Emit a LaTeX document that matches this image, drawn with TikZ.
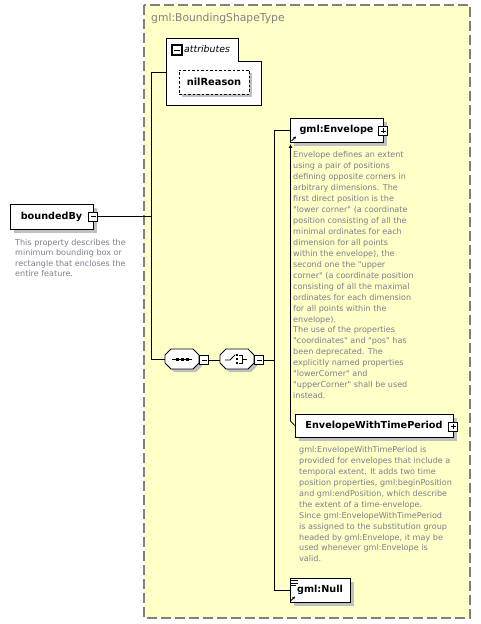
\documentclass[tikz,border=0pt]{standalone}
\usepackage{fontspec}
\setmainfont{DejaVu Sans}
\usetikzlibrary{arrows.meta,calc,shadows}
\definecolor{bgyellow}{RGB}{255,255,200}
\definecolor{desc}{RGB}{125,128,140}
\definecolor{shadowgray}{RGB}{192,192,192}
\definecolor{borderdash}{RGB}{128,128,128}
\newcommand{\dq}{\textquotedbl}
\tikzset{
  shadowed/.style={drop shadow={shadow xshift=4bp,shadow yshift=-4bp,fill=shadowgray,opacity=1}},
  elem/.style={draw=black, fill=white, line width=0.8bp, inner sep=0, shadowed,
    font=\fontsize{9.7}{11}\selectfont\bfseries},
  descr/.style={anchor=north west, align=left, inner sep=0, text=desc,
    font=\fontsize{8.1}{11}\selectfont},
  conn/.style={draw=black, line width=0.8bp},
  tog/.style={draw=black, fill=white, line width=0.8bp, minimum size=9bp, inner sep=0},
  minusbox/.style={tog, path picture={\draw[line width=0.8bp]
     ([xshift=2bp]path picture bounding box.west) -- ([xshift=-2bp]path picture bounding box.east);}},
  plusbox/.style={tog, path picture={\draw[line width=0.8bp]
     ([xshift=2bp]path picture bounding box.west) -- ([xshift=-2bp]path picture bounding box.east)
     ([yshift=-2bp]path picture bounding box.north) -- ([yshift=2bp]path picture bounding box.south);}},
  compbox/.style={minimum width=34bp, minimum height=20bp, inner sep=0},
}
\begin{document}
\begin{tikzpicture}[x=1bp,y=-1bp]
\useasboundingbox (0,0) rectangle (481,624);

% outer complex type box
\draw[borderdash, dash pattern=on 10bp off 4bp, line width=1.5bp, fill=bgyellow] (144,5) rectangle (470,618);
\node[anchor=west, inner sep=0, text=borderdash, font=\fontsize{10.8}{12}\selectfont] (title) at (151,19) {gml:BoundingShapeType};

% attributes group
\draw[line width=0.8bp, fill=white] (166,38) -- (238,38) -- (238,61) -- (261,61) -- (261,105) -- (166,105) -- cycle;
\node[tog, line width=1.2bp, minimum size=10bp, path picture={\draw[line width=0.8bp]
     ([xshift=2bp]path picture bounding box.west) -- ([xshift=-2bp]path picture bounding box.east);}] (attm) at (177,50) {};
\node[anchor=west, inner sep=0, font=\fontsize{9.4}{11}\selectfont\itshape] (attl) at (184,49.5) {attributes};
\fill[shadowgray] (182,73) rectangle (252,97);
\node[draw=black, fill=white, dash pattern=on 2.5bp off 2bp, line width=0.8bp, minimum width=70bp, minimum height=24bp,
      inner sep=0, font=\fontsize{9.9}{11}\selectfont\bfseries] (nil) at (214,82) {nilReason};
\coordinate (attin) at (166,72);
\coordinate (ja) at (151,72);
\coordinate (jb) at (151,359);

% boundedBy
\node[elem, minimum width=83bp, minimum height=25bp] (bb) at (51.5,216.5) {boundedBy};
\node[minusbox] (bbm) at (93,216.5) {};
\node[descr, font=\fontsize{8.1}{10.5}\selectfont] (bbd) at (15,238.8) {This property describes the\\minimum bounding box or\\rectangle that encloses the\\entire feature.};

% sequence and choice compositors
\node[compbox] (seq) at (182,359) {};
\node[compbox] (cho) at (237,359) {};
\foreach \n in {seq,cho}{
  \fill[shadowgray, shift={($(\n.center)+(3,3)$)}] (-11,-10) -- (11,-10) -- (17,-4) -- (17,4) -- (11,10) -- (-11,10) -- (-17,4) -- (-17,-4) -- cycle;
  \draw[line width=0.8bp, fill=white, shift={(\n.center)}] (-11,-10) -- (11,-10) -- (17,-4) -- (17,4) -- (11,10) -- (-11,10) -- (-17,4) -- (-17,-4) -- cycle;
}
\begin{scope}[shift={(seq.center)}]
  \draw[line width=0.8bp] (-10,0) -- (10,0);
  \foreach \i in {-5,0,5} \fill (\i-1.5,-1.5) rectangle (\i+1.5,1.5);
\end{scope}
\begin{scope}[shift={(cho.center)}, line width=0.8bp]
  \draw (-12,1) -- (-7,1) -- (-2,-4);
  \foreach \j in {-4,0,4} \fill (-1.3,\j-1.3) rectangle (1.3,\j+1.3);
  \draw (2,-4) -- (5,-4) -- (5,4) -- (2,4) (5,0) -- (10,0);
\end{scope}
\node[minusbox] (seqm) at (204,360) {};
\node[minusbox] (chom) at (259,360) {};

% elements of the choice
\node[elem, minimum width=93bp, minimum height=24bp] (env) at (336.5,130) {gml:Envelope};
\node[plusbox] (envp) at (383,131) {};
\draw[line width=0.8bp, -{Stealth[length=3bp,width=3bp]}] (291.5,141) -- (296,136.5);
\node[descr] (envd) at (293,151.3) {Envelope defines an extent\\using a pair of positions\\defining opposite corners in\\arbitrary dimensions. The\\first direct position is the\\\dq lower corner\dq{} (a coordinate\\position consisting of all the\\minimal ordinates for each\\dimension for all points\\within the envelope), the\\second one the \dq upper\\corner\dq{} (a coordinate position\\consisting of all the maximal\\ordinates for each dimension\\for all points within the\\envelope).\\The use of the properties\\\dq coordinates\dq{} and \dq pos\dq{} has\\been deprecated. The\\explicitly named properties\\\dq lowerCorner\dq{} and\\\dq upperCorner\dq{} shall be used\\instead.};

\node[elem, minimum width=158bp, minimum height=23bp] (ewtp) at (374,425.5) {EnvelopeWithTimePeriod};
\node[plusbox] (ewtpp) at (453,426.5) {};
\node[descr] (ewtpd) at (299,446) {gml:EnvelopeWithTimePeriod is\\provided for envelopes that include a\\temporal extent. It adds two time\\position properties, gml:beginPosition\\and gml:endPosition, which describe\\the extent of a time-envelope.\\Since gml:EnvelopeWithTimePeriod\\is assigned to the substitution group\\headed by gml:Envelope, it may be\\used whenever gml:Envelope is\\valid.};

\node[elem, minimum width=60bp, minimum height=24bp] (null) at (320,590) {gml:Null};
\draw[line width=0.8bp] (291,580.5) -- (298,580.5) (291,583) -- (298,583) (291,585.5) -- (296,585.5);
\draw[line width=0.8bp, -{Stealth[length=3bp,width=3bp]}] (290.5,601) -- (295,596.5);

% connectors
\coordinate (bus1) at (274,130);
\coordinate (bus2) at (274,590);
\coordinate (sub) at (290.5,421);
\draw[conn] (attin) -- (ja) -- (jb) -- (seq.west);
\draw[conn] (bbm.east) -- (bbm.east -| ja);
\draw[conn] (seqm.east) -- (seqm.east -| cho.west);
\draw[conn] (chom.east) -- (chom.east -| bus1);
\draw[conn] (env.west) -- (bus1) -- (bus2) -- (null.west);
\draw[conn, -{Latex[length=4bp,width=4bp]}] (ewtp.west) -- (sub) -- (290.5,144);
\end{tikzpicture}
\end{document}
